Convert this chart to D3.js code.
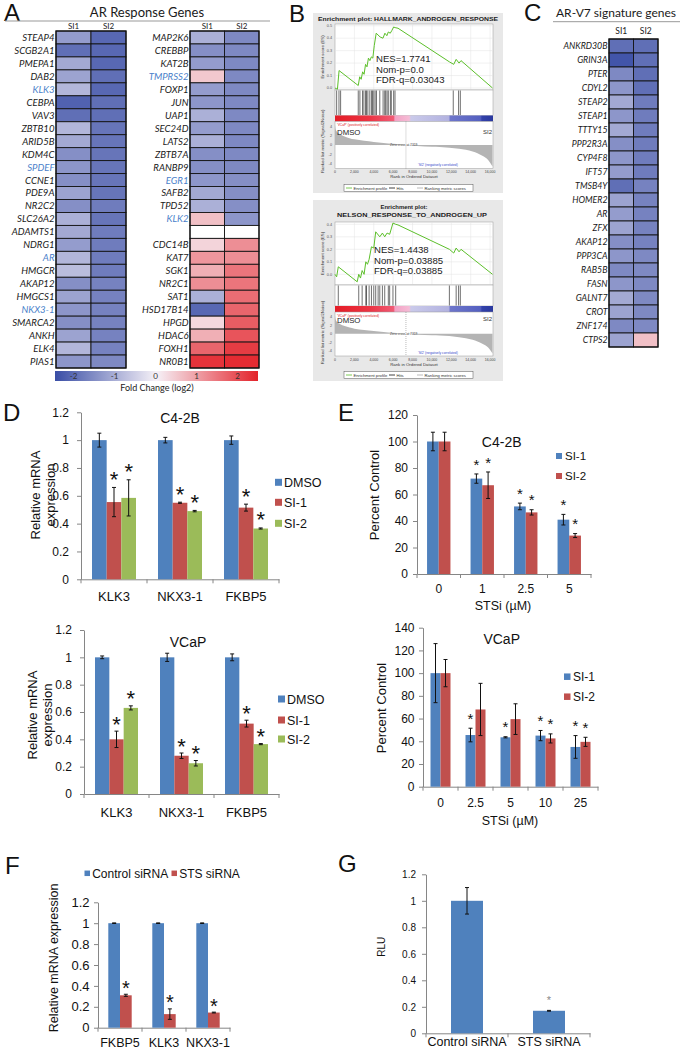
<!DOCTYPE html>
<html><head><meta charset="utf-8">
<script src="https://cdn.jsdelivr.net/npm/d3@7"></script>
<style>body{margin:0;background:#fff}svg{display:block}</style>
</head><body>
<svg id="fig" width="680" height="1050"></svg>
<script>
// ---------------- DATA ----------------
// Panel A: AR response genes (log2 fold change)
const arGenesLeft = ["STEAP4","SCGB2A1","PMEPA1","DAB2","KLK3","CEBPA","VAV3","ZBTB10","ARID5B","KDM4C","SPDEF","CCNE1","PDE9A","NR2C2","SLC26A2","ADAMTS1","NDRG1","AR","HMGCR","AKAP12","HMGCS1","NKX3-1","SMARCA2","ANKH","ELK4","PIAS1"];
const arSI1Left = [-1.3,-2.0,-1.1,-1.2,-0.9,-2.2,-2.0,-0.9,-1.1,-1.5,-1.4,-1.5,-1.2,-1.5,-1.0,-1.1,-1.3,-0.9,-0.8,-1.5,-1.2,-1.4,-1.5,-1.2,-0.9,-1.4];
const arSI2Left = [-2.1,-2.1,-2.1,-2.0,-2.1,-2.0,-2.0,-1.9,-1.9,-1.9,-1.9,-1.9,-1.9,-1.8,-1.9,-1.8,-1.8,-1.8,-1.8,-1.7,-1.7,-1.7,-1.7,-1.7,-1.7,-1.6];
const arBlueLeft = ["KLK3","SPDEF","AR","NKX3-1"];
const arGenesRight = ["MAP2K6","CREBBP","KAT2B","TMPRSS2","FOXP1","JUN","UAP1","SEC24D","LATS2","ZBTB7A","RANBP9","EGR1","SAFB2","TPD52","KLK2","","CDC14B","KAT7","SGK1","NR2C1","SAT1","HSD17B14","HPGD","HDAC6","FOXH1","NR0B1"];
const arSI1Right = [-1.0,-1.5,-1.3,0.5,-1.3,-1.4,-1.0,-1.3,-1.0,-1.5,-1.5,-1.4,-1.1,-1.0,0.6,null,0.35,1.1,0.8,1.2,-1.0,-2.1,0.3,0.8,1.7,2.3];
const arSI2Right = [-1.6,-1.6,-1.6,-1.6,-1.6,-1.6,-1.6,-1.6,-1.6,-1.6,-1.6,-1.5,-1.5,-1.5,-1.4,null,1.2,1.2,1.5,1.5,1.6,1.7,1.8,1.9,2.2,2.4];
const arBlueRight = ["TMPRSS2","EGR1","KLK2"];
const colorbarTicks = [-2,-1,0,1,2];
// Panel C: AR-V7 signature genes
const v7Genes = ["ANKRD30B","GRIN3A","PTER","CDYL2","STEAP2","STEAP1","TTTY15","PPP2R3A","CYP4F8","IFT57","TMSB4Y","HOMER2","AR","ZFX","AKAP12","PPP3CA","RAB5B","FASN","GALNT7","CROT","ZNF174","CTPS2"];
const v7SI1 = [-2.0,-2.4,-1.6,-1.4,-1.1,-1.4,-1.1,-1.5,-1.4,-1.3,-2.0,-1.2,-1.3,-1.2,-1.5,-1.4,-1.6,-1.4,-1.1,-1.2,-1.6,-1.2];
const v7SI2 = [-2.0,-2.0,-2.0,-2.0,-1.8,-1.8,-1.8,-1.8,-1.8,-1.8,-1.7,-1.7,-1.7,-1.7,-1.7,-1.6,-1.6,-1.6,-1.6,-1.6,-1.6,0.6];
// Panel B: GSEA
const rankTicks = [0,2000,4000,6000,8000,10000,12000,14000,16000];
const hallmarkES = [[0,0],[250,-0.01],[420,0.14],[2400,0.02],[2550,0.09],[2700,0.07],[2850,0.13],[3000,0.11],[3150,0.19],[3300,0.17],[3450,0.24],[3600,0.22],[3750,0.25],[3900,0.24],[4050,0.34],[4250,0.44],[4650,0.41],[4950,0.40],[5150,0.44],[5350,0.42],[5500,0.45],[5700,0.44],[5850,0.46],[6050,0.49],[6200,0.485],[6500,0.48],[11800,0.21],[12250,0.19],[12500,0.23],[12800,0.20],[13000,0.22],[16250,0.0]];
const hallmarkHits = [170,410,580,2400,2570,2840,2980,3150,3250,3390,3590,3760,3870,4000,4140,4280,4620,4960,5130,5230,5370,5500,5710,5810,6050,6190,12200,12750,12930];
const hallmarkStats = ["NES=1.7741","Nom-p=0.0","FDR-q=0.03043"];
const nelsonES = [[0,0],[170,-0.02],[340,0.06],[2290,-0.06],[2450,0.0],[2630,-0.03],[2800,0.03],[3000,0.0],[3180,0.10],[3350,0.08],[3520,0.12],[3760,0.22],[4000,0.21],[4200,0.34],[4620,0.30],[4890,0.33],[5130,0.30],[5370,0.33],[5640,0.32],[5980,0.41],[6260,0.40],[6500,0.395],[11800,0.20],[12250,0.17],[12500,0.21],[12800,0.18],[13000,0.20],[16250,0.0]];
const nelsonHits = [340,2450,2800,3180,3250,3520,3760,4000,4200,4450,4620,4890,5130,5500,5640,5980,6260,11800,12500,12750,12930];
const nelsonStats = ["NES=1.4438","Nom-p=0.03885","FDR-q=0.03885"];
const rankedMetric = [[0,4.3],[60,3.4],[200,2.8],[500,2.3],[1000,1.8],[1500,1.45],[2000,1.2],[3000,0.9],[4000,0.65],[5000,0.45],[6000,0.25],[7319,0],[8500,-0.2],[10000,-0.35],[10800,-0.4],[12800,-0.8],[14200,-1.4],[15200,-2.3],[15800,-3.2],[16250,-4.6]];
const zeroCross = 7319;
// Panel D
const dGenes = ["KLK3","NKX3-1","FKBP5"];
const dSeries = ["DMSO","SI-1","SI-2"];
const dTicks = [0,0.2,0.4,0.6,0.8,1,1.2];
const dC42BValues = [[1.0,0.555,0.585],[1.0,0.55,0.49],[1.0,0.515,0.365]];
const dC42BErrors = [[0.05,0.105,0.13],[0.02,0.004,0.005],[0.03,0.025,0.004]];
const dC42BStars  = [[0,1,1],[0,1,1],[0,1,1]];
const dVCaPValues = [[1.0,0.40,0.63],[1.0,0.28,0.225],[1.0,0.515,0.365]];
const dVCaPErrors = [[0.01,0.06,0.015],[0.03,0.02,0.02],[0.025,0.025,0.004]];
const dVCaPStars  = [[0,1,1],[0,1,1],[0,1,1]];
// Panel E
const eSeries = ["SI-1","SI-2"];
const eC42BDoses = ["0","1","2.5","5"];
const eC42BTicks = [0,20,40,60,80,100,120];
const eC42BValues = [[100,100],[72,67],[51,46.5],[41,29]];
const eC42BErrors = [[7,7],[3.5,10],[2.5,2],[4,1.5]];
const eC42BStars  = [[0,0],[1,1],[1,1],[1,1]];
const eVCaPDoses = ["0","2.5","5","10","25"];
const eVCaPTicks = [0,20,40,60,80,100,120,140];
const eVCaPValues = [[100,100],[45.5,68],[43.5,59.5],[45,42.5],[35,39.5]];
const eVCaPErrors = [[26,12],[6,23],[0.5,13.5],[4.5,4],[10,4]];
const eVCaPStars  = [[0,0],[1,0],[1,0],[1,1],[1,1]];
// Panel F
const fGenes = ["FKBP5","KLK3","NKX3-1"];
const fSeries = ["Control siRNA","STS siRNA"];
const fTicks = [0,0.2,0.4,0.6,0.8,1,1.2];
const fValues = [[1.0,0.31],[1.0,0.13],[1.0,0.145]];
const fErrors = [[0.003,0.01],[0.003,0.05],[0.003,0.004]];
const fStars  = [[0,1],[0,1],[0,1]];
// Panel G
const gGroups = ["Control siRNA","STS siRNA"];
const gSeries = ["RLU"];
const gTicks = [0,0.2,0.4,0.6,0.8,1,1.2];
const gValues = [[1.0],[0.17]];
const gErrors = [[0.1],[0.003]];
const gStars  = [[0],[1]];

// ---------------- DRAWING ----------------
const SANS = "'Liberation Sans', Arial, Helvetica, sans-serif";
const CAL = "Lato, 'Open Sans', sans-serif";
const AX = "#868686";
const BLUE = "#4f81bd", RED = "#c0504d", GREEN = "#9bbb59";
const svg = d3.select("#fig");
svg.append("rect").attr("width",680).attr("height",1050).attr("fill","#fff");
const defs = svg.append("defs");

function letter(t,x,y){
  svg.append("text").attr("x",x).attr("y",y).attr("font-family",SANS).attr("font-size",24).attr("fill","#111").text(t);
}
letter("A",4,21); letter("B",289,22); letter("C",524,21);
letter("D",3,421); letter("E",338,421); letter("F",5,874); letter("G",338,872);

const heatColor = d3.scaleLinear().domain([-2.5,0,2.5]).range(["#3a4ea6","#f6f1f7","#e3232a"]).clamp(true);

function heatmap(c){
  const g = svg.append("g");
  const rows = d3.scaleBand().domain(d3.range(c.genes.length)).range([c.y0,c.y1]);
  const cols = d3.scaleBand().domain(["SI1","SI2"]).range([c.x0,c.x1]);
  const cells = [];
  c.genes.forEach((gn,i)=>{ cells.push({i,col:"SI1",v:c.v1[i]}); cells.push({i,col:"SI2",v:c.v2[i]}); });
  g.selectAll("rect.cell").data(cells).join("rect").attr("class","cell")
    .attr("x",d=>cols(d.col)).attr("y",d=>rows(d.i))
    .attr("width",cols.bandwidth()).attr("height",rows.bandwidth())
    .attr("fill",d=>d.v==null?"#fff":heatColor(d.v))
    .attr("stroke","#141414").attr("stroke-width",0.9);
  g.append("rect").attr("x",c.x0).attr("y",c.y0).attr("width",c.x1-c.x0).attr("height",c.y1-c.y0)
    .attr("fill","none").attr("stroke","#111").attr("stroke-width",1.2);
  g.selectAll("text.gene").data(c.genes).join("text").attr("class","gene")
    .attr("x",c.x0-1.5).attr("y",(d,i)=>rows(i)+rows.bandwidth()/2).attr("dy","0.36em")
    .attr("text-anchor","end").attr("font-family",CAL).attr("font-style","italic")
    .attr("font-size",c.font).attr("fill",d=>c.blue.includes(d)?"#4a7fca":"#1a1a1a").text(d=>d);
  g.selectAll("text.hdr").data(["SI1","SI2"]).join("text").attr("class","hdr")
    .attr("x",d=>cols(d)+cols.bandwidth()/2).attr("y",c.hy).attr("text-anchor","middle")
    .attr("font-family",CAL).attr("font-size",c.hfont).attr("fill","#1a1a1a").text(d=>d);
}

// Panel A
svg.append("text").attr("x",147).attr("y",16.5).attr("text-anchor","middle").attr("font-family",CAL).attr("font-size",13).attr("fill","#1a1a1a").text("AR Response Genes");
svg.append("line").attr("x1",5).attr("x2",270).attr("y1",21).attr("y2",21).attr("stroke","#999").attr("stroke-width",1);
heatmap({genes:arGenesLeft,v1:arSI1Left,v2:arSI2Left,blue:arBlueLeft,x0:56,x1:126,y0:31,y1:368,font:9.6,hy:28.5,hfont:8});
heatmap({genes:arGenesRight,v1:arSI1Right,v2:arSI2Right,blue:arBlueRight,x0:190,x1:259,y0:31,y1:368,font:9.6,hy:28.5,hfont:8});
// colorbar
(function(){
  const cb = d3.scaleLinear().domain([-2.5,2.5]).range([53,258]);
  const grad = defs.append("linearGradient").attr("id","heatgrad").attr("x1","0").attr("x2","1").attr("y1","0").attr("y2","0");
  d3.range(0,1.0001,0.05).forEach(t=>{
    grad.append("stop").attr("offset",t).attr("stop-color",heatColor(-2.5+5*t));
  });
  svg.append("rect").attr("x",55).attr("y",371).attr("width",203).attr("height",10).attr("fill","url(#heatgrad)");
  svg.selectAll("text.cbt").data(colorbarTicks).join("text").attr("class","cbt")
    .attr("x",d=>cb(d)).attr("y",379).attr("text-anchor","middle").attr("font-family",CAL)
    .attr("font-size",8).attr("fill","#333").text(d=>d);
  svg.append("text").attr("x",157).attr("y",391).attr("text-anchor","middle").attr("font-family",CAL).attr("font-size",9).attr("fill","#222").text("Fold Change (log2)");
})();

// Panel C
svg.append("text").attr("x",616).attr("y",17).attr("text-anchor","middle").attr("font-family",CAL).attr("font-size",12).attr("fill","#1a1a1a").text("AR-V7 signature genes");
svg.append("line").attr("x1",553).attr("x2",680).attr("y1",21.7).attr("y2",21.7).attr("stroke","#999").attr("stroke-width",1);
heatmap({genes:v7Genes,v1:v7SI1,v2:v7SI2,blue:[],x0:609,x1:658,y0:39,y1:347,font:8.8,hy:33.5,hfont:8.5});

// Panel B: GSEA
function gsea(c){
  const g = svg.append("g").attr("font-family",SANS);
  g.append("rect").attr("x",313).attr("y",c.bg0).attr("width",190).attr("height",c.bg1-c.bg0).attr("fill","#e8e8e8");
  c.titles.forEach(t=>{
    g.append("text").attr("x",t.x).attr("y",t.y).attr("text-anchor","middle").attr("font-weight","bold")
      .attr("font-size",6.2).attr("textLength",t.w).attr("lengthAdjust","spacingAndGlyphs").attr("fill","#222").text(t.text);
  });
  const x = d3.scaleLinear().domain([0,16300]).range([335,493]);
  const yE = d3.scaleLinear().domain(c.esDomain).range([c.esBot,c.esTop]);
  const yM = d3.scaleLinear().domain(c.mDomain).range([c.mBot,c.mTop]);
  // ES panel
  g.append("rect").attr("x",335).attr("y",c.esTop).attr("width",158).attr("height",c.esBot-c.esTop).attr("fill","#fff").attr("stroke","#999").attr("stroke-width",0.5);
  g.selectAll("line.vg").data(rankTicks.slice(1)).join("line").attr("class","vg")
    .attr("x1",d=>x(d)).attr("x2",d=>x(d)).attr("y1",c.esTop).attr("y2",c.esBot).attr("stroke","#e3e3e3").attr("stroke-width",0.5);
  g.selectAll("line.hg").data(c.esTicks).join("line").attr("class","hg")
    .attr("x1",335).attr("x2",493).attr("y1",d=>yE(d)).attr("y2",d=>yE(d)).attr("stroke","#e3e3e3").attr("stroke-width",0.5);
  g.selectAll("text.est").data(c.esTicks).join("text").attr("class","est")
    .attr("x",332).attr("y",d=>yE(d)+1.3).attr("text-anchor","end").attr("font-size",3.8).attr("fill","#555").text(d3.format(".1f"));
  g.append("path").datum(c.es).attr("d",d3.line().x(d=>x(d[0])).y(d=>yE(d[1])))
    .attr("fill","none").attr("stroke","#5cbf2a").attr("stroke-width",1);
  c.stats.forEach((s,i)=>{
    g.append("text").attr("x",c.statX).attr("y",c.statY[i]).attr("font-size",9.6).attr("fill","#1a1a1a").text(s);
  });
  // hits
  g.append("rect").attr("x",335).attr("y",c.hTop).attr("width",158).attr("height",c.hBot-c.hTop).attr("fill","#fff").attr("stroke","#999").attr("stroke-width",0.5);
  g.selectAll("line.hit").data(c.hits).join("line").attr("class","hit")
    .attr("x1",d=>x(d)).attr("x2",d=>x(d)).attr("y1",c.hTop+0.5).attr("y2",c.hBot-0.5).attr("stroke","#111").attr("stroke-width",0.6);
  // color bar
  g.append("rect").attr("x",335).attr("y",c.hBot).attr("width",158).attr("height",c.cbBot-c.hBot).attr("fill","url(#gseagrad)");
  // metric panel
  g.append("rect").attr("x",335).attr("y",c.mTop).attr("width",158).attr("height",c.mBot-c.mTop).attr("fill","#fff").attr("stroke","#999").attr("stroke-width",0.5);
  g.append("path").datum(rankedMetric).attr("d",d3.area().curve(d3.curveMonotoneX).x(d=>x(d[0])).y0(yM(0)).y1(d=>yM(d[1])))
    .attr("fill","#b4b4b4");
  g.append("line").attr("x1",x(zeroCross)).attr("x2",x(zeroCross)).attr("y1",c.mTop).attr("y2",c.mBot).attr("stroke","#777").attr("stroke-width",0.5).attr("stroke-dasharray","1,1");
  g.selectAll("text.mt").data([4,2,0,-2,-4]).join("text").attr("class","mt")
    .attr("x",332).attr("y",d=>yM(d)+1.3).attr("text-anchor","end").attr("font-size",3.8).attr("fill","#555").text(d=>d);
  g.append("text").attr("x",337).attr("y",c.mTop+4.5).attr("font-size",3.3).attr("fill","#e02020").text("'VCaP' (positively correlated)");
  g.append("text").attr("x",337).attr("y",c.dmsoY).attr("font-size",7.8).attr("fill","#222").text("DMSO");
  g.append("text").attr("x",483).attr("y",c.si2Y).attr("font-size",6).attr("fill","#333").text("SI2");
  g.append("text").attr("x",x(zeroCross)-16).attr("y",yM(0)+1.2).attr("font-size",3.3).attr("fill","#444").text("Zero cross at 7319");
  g.append("text").attr("x",418).attr("y",c.mBot-2.5).attr("font-size",3.3).attr("fill","#3344cc").text("'SI2' (negatively correlated)");
  g.selectAll("text.xt").data(rankTicks).join("text").attr("class","xt")
    .attr("x",d=>x(d)).attr("y",c.mBot+4.5).attr("text-anchor","middle").attr("font-size",3.5).attr("fill","#444").text(d3.format(","));
  g.append("text").attr("x",414).attr("y",c.mBot+9.8).attr("text-anchor","middle").attr("font-size",4.3).attr("fill","#333").text("Rank in Ordered Dataset");
  g.append("text").attr("transform",`translate(323.5,${(c.esTop+c.esBot)/2}) rotate(-90)`).attr("text-anchor","middle").attr("font-size",4.3).attr("fill","#333").text("Enrichment score (ES)");
  g.append("text").attr("transform",`translate(323.5,${(c.hTop+c.mBot)/2+12}) rotate(-90)`).attr("text-anchor","middle").attr("font-size",4.3).attr("fill","#333").text("Ranked list metric (Signal2Noise)");
  // legend
  const ly = c.legY;
  g.append("rect").attr("x",344).attr("y",ly).attr("width",129).attr("height",7).attr("fill","#fff").attr("stroke","#555").attr("stroke-width",0.5);
  const items = [{x:346,c:"#5cbf2a",t:"Enrichment profile"},{x:389,c:"#111",t:"Hits"},{x:417,c:"#aaa",t:"Ranking metric scores"}];
  items.forEach(it=>{
    g.append("line").attr("x1",it.x).attr("x2",it.x+6).attr("y1",ly+3.5).attr("y2",ly+3.5).attr("stroke",it.c).attr("stroke-width",0.8);
    g.append("text").attr("x",it.x+7.5).attr("y",ly+5).attr("font-size",4.2).attr("fill","#333").text(it.t);
  });
}
(function(){
  const gr = defs.append("linearGradient").attr("id","gseagrad").attr("x1","0").attr("x2","1").attr("y1","0").attr("y2","0");
  [[0,"#e41c26"],[0.22,"#ec3444"],[0.37,"#f05a74"],[0.38,"#f3a2c4"],[0.47,"#f5bcd6"],[0.48,"#cacaea"],[0.72,"#b2b2e0"],[0.73,"#6e76cb"],[0.92,"#5460c0"],[0.93,"#3342aa"],[1,"#2a389e"]]
    .forEach(s=>gr.append("stop").attr("offset",s[0]).attr("stop-color",s[1]));
})();
gsea({bg0:13,bg1:193,titles:[{x:408,y:21,w:180,text:"Enrichment plot: HALLMARK_ANDROGEN_RESPONSE"}],
  esTop:24,esBot:90,esDomain:[-0.016,0.514],esTicks:[0,0.1,0.2,0.3,0.4,0.5],es:hallmarkES,
  stats:hallmarkStats,statX:376,statY:[62,72.5,83],
  hTop:90,hBot:115.5,hits:hallmarkHits,cbBot:121.5,mTop:121.5,mBot:168.5,mDomain:[-5,5],
  dmsoY:135,si2Y:133.5,legY:184.5});
gsea({bg0:200,bg1:381,titles:[{x:404,y:209,w:47,text:"Enrichment plot:"},{x:412,y:217,w:150,text:"NELSON_RESPONSE_TO_ANDROGEN_UP"}],
  esTop:222,esBot:285,esDomain:[-0.0856,0.4184],esTicks:[0,0.1,0.2,0.3,0.4],es:nelsonES,
  stats:nelsonStats,statX:374,statY:[253,263.5,274],
  hTop:285,hBot:306,hits:nelsonHits,cbBot:312,mTop:312,mBot:356,mDomain:[-5.17,5.09],
  dmsoY:322.5,si2Y:320.5,legY:371.5});

// Bar charts
function barChart(c){
  const g = svg.append("g").attr("font-family",SANS);
  const y = d3.scaleLinear().domain([0,c.ymax]).range([c.yZero,c.yTop]);
  const x = d3.scaleBand().domain(c.categories).range([c.xL,c.xR]);
  const xs = d3.scaleBand().domain(c.series).range([0,c.groupW]);
  const off = (x.bandwidth()-c.groupW)/2;
  const ya = g.append("g").attr("transform",`translate(${c.xL},0)`)
    .call(d3.axisLeft(y).tickValues(c.ticks).tickSize(4).tickSizeOuter(0).tickPadding(c.tickPad).tickFormat(d3.format("")));
  ya.attr("font-family",null).attr("font-size",null);
  ya.select(".domain").attr("stroke",AX);
  ya.selectAll(".tick line").attr("stroke",AX);
  ya.selectAll(".tick text").attr("font-size",c.tickFont).attr("font-family",SANS).attr("fill","#111");
  const xa = g.append("g").attr("transform",`translate(0,${c.yZero})`)
    .call(d3.axisBottom(x).tickSize(0).tickPadding(c.catPad));
  xa.attr("font-family",null).attr("font-size",null);
  xa.select(".domain").attr("stroke",AX);
  xa.selectAll(".tick text").attr("font-size",c.catFont).attr("font-family",SANS).attr("fill","#111");
  const bounds = c.categories.map(d=>x(d)).concat([c.xR]);
  g.selectAll("line.bt").data(bounds).join("line").attr("class","bt")
    .attr("x1",d=>d).attr("x2",d=>d).attr("y1",c.yZero).attr("y2",c.yZero+4).attr("stroke",AX);
  const flat = [];
  c.categories.forEach((cat,i)=>c.series.forEach((s,j)=>flat.push({cat,s,j,v:c.values[i][j],e:c.errors[i][j],st:c.stars[i][j]})));
  const cx = d=>x(d.cat)+off+xs(d.s)+xs.bandwidth()/2;
  g.selectAll("rect.bar").data(flat).join("rect").attr("class","bar")
    .attr("x",d=>x(d.cat)+off+xs(d.s)).attr("y",d=>y(d.v)).attr("width",xs.bandwidth())
    .attr("height",d=>c.yZero-y(d.v)).attr("fill",d=>c.colors[d.j]);
  const eb = g.selectAll("g.eb").data(flat).join("g").attr("class","eb").attr("stroke","#111").attr("stroke-width",1);
  eb.append("line").attr("x1",cx).attr("x2",cx).attr("y1",d=>y(d.v-d.e)).attr("y2",d=>y(d.v+d.e));
  eb.append("line").attr("x1",d=>cx(d)-2).attr("x2",d=>cx(d)+2).attr("y1",d=>y(d.v+d.e)).attr("y2",d=>y(d.v+d.e));
  eb.append("line").attr("x1",d=>cx(d)-2).attr("x2",d=>cx(d)+2).attr("y1",d=>y(d.v-d.e)).attr("y2",d=>y(d.v-d.e));
  g.selectAll("text.star").data(flat.filter(d=>d.st)).join("text").attr("class","star")
    .attr("x",cx).attr("y",d=>y(d.v+d.e)+c.starDy).attr("text-anchor","middle")
    .attr("font-size",c.starFont).attr("fill",c.starColor||"#111").text("*");
  if(c.title) g.append("text").attr("x",c.title.x).attr("y",c.title.y).attr("text-anchor","middle").attr("font-size",14).attr("fill","#111").text(c.title.t);
  if(c.legend){
    c.legend.pos.forEach((p,j)=>{
      g.append("rect").attr("x",p[0]).attr("y",p[1]-c.legend.sq/2).attr("width",c.legend.sq).attr("height",c.legend.sq).attr("fill",c.colors[j]);
      g.append("text").attr("x",p[0]+c.legend.sq+c.legend.gap).attr("y",p[1]+c.legend.font*0.36).attr("font-size",c.legend.font).attr("fill","#111").text(c.series[j]);
    });
  }
  c.ylabel.forEach(l=>{
    g.append("text").attr("transform",`translate(${l.x},${l.y}) rotate(-90)`).attr("text-anchor","middle")
      .attr("font-size",l.size).attr("fill","#111").text(l.t);
  });
  if(c.xlabel) g.append("text").attr("x",c.xlabel.x).attr("y",c.xlabel.y).attr("text-anchor","middle").attr("font-size",12.5).attr("fill","#111").text(c.xlabel.t);
}

// D top: C4-2B
barChart({categories:dGenes,series:dSeries,values:dC42BValues,errors:dC42BErrors,stars:dC42BStars,colors:[BLUE,RED,GREEN],
  ymax:1.2,ticks:dTicks,xL:81,xR:279,yZero:579.3,yTop:412.3,groupW:44,tickPad:8,tickFont:12,catPad:12.5,catFont:13,
  starDy:-0.5,starFont:22,title:{x:180,y:423,t:"C4-2B"},
  legend:{pos:[[275,482.3],[275,502.3],[275,523.3]],sq:7,gap:2,font:12.5},
  ylabel:[{x:39.5,y:495,t:"Relative mRNA",size:13},{x:54.5,y:495,t:"expression",size:13}]});
// D bottom: VCaP
barChart({categories:dGenes,series:dSeries,values:dVCaPValues,errors:dVCaPErrors,stars:dVCaPStars,colors:[BLUE,RED,GREEN],
  ymax:1.2,ticks:dTicks,xL:84,xR:279,yZero:794,yTop:630,groupW:43,tickPad:8,tickFont:12,catPad:14,catFont:13,
  starDy:0.5,starFont:22,title:{x:188,y:647,t:"VCaP"},
  legend:{pos:[[278,699],[278,720],[278,739]],sq:7,gap:2,font:12.5},
  ylabel:[{x:36.5,y:715,t:"Relative mRNA",size:13},{x:51.5,y:715,t:"expression",size:13}]});
// E top: C4-2B
barChart({categories:eC42BDoses,series:eSeries,values:eC42BValues,errors:eC42BErrors,stars:eC42BStars,colors:[BLUE,RED],
  ymax:120,ticks:eC42BTicks,xL:417,xR:591,yZero:574,yTop:415,groupW:23.4,tickPad:5,tickFont:12,catPad:10.5,catFont:12,
  starDy:-4.4,starFont:15,title:{x:501.7,y:447,t:"C4-2B"},
  legend:{pos:[[556,456],[556,476]],sq:6,gap:3,font:11.5},
  ylabel:[{x:378.5,y:495,t:"Percent Control",size:13}],xlabel:{x:503,y:610,t:"STSi (µM)"}});
// E bottom: VCaP
barChart({categories:eVCaPDoses,series:eSeries,values:eVCaPValues,errors:eVCaPErrors,stars:eVCaPStars,colors:[BLUE,RED],
  ymax:140,ticks:eVCaPTicks,xL:423,xR:598,yZero:786.7,yTop:627.7,groupW:20,tickPad:4.5,tickFont:12,catPad:11.5,catFont:12,
  starDy:-4.4,starFont:15,title:{x:501.7,y:644,t:"VCaP"},
  legend:{pos:[[564,676.7],[564,696.7]],sq:6.5,gap:2.5,font:12},
  ylabel:[{x:386,y:708,t:"Percent Control",size:13}],xlabel:{x:510,y:825,t:"STSi (µM)"}});
// F
barChart({categories:fGenes,series:fSeries,values:fValues,errors:fErrors,stars:fStars,colors:[BLUE,RED],
  ymax:1.2,ticks:fTicks,xL:98,xR:230,yZero:1027.7,yTop:902.3,groupW:23.4,tickPad:4.5,tickFont:13,catPad:10.3,catFont:12.5,
  starDy:0.5,starFont:20,
  legend:{pos:[[84.5,873.3],[171.5,873.3]],sq:5.5,gap:2.2,font:12},
  ylabel:[{x:57.5,y:958,t:"Relative mRNA expression",size:12.5}]});
// G
barChart({categories:gGroups,series:gSeries,values:gValues,errors:gErrors,stars:gStars,colors:[BLUE],
  ymax:1.2,ticks:gTicks,xL:426,xR:590,yZero:1033.3,yTop:874.3,groupW:32,tickPad:6,tickFont:10,catPad:3.8,catFont:12.5,
  starDy:-6.4,starFont:11,starColor:"#888",
  ylabel:[{x:385,y:946.7,t:"RLU",size:10}]});
</script>
</body></html>
